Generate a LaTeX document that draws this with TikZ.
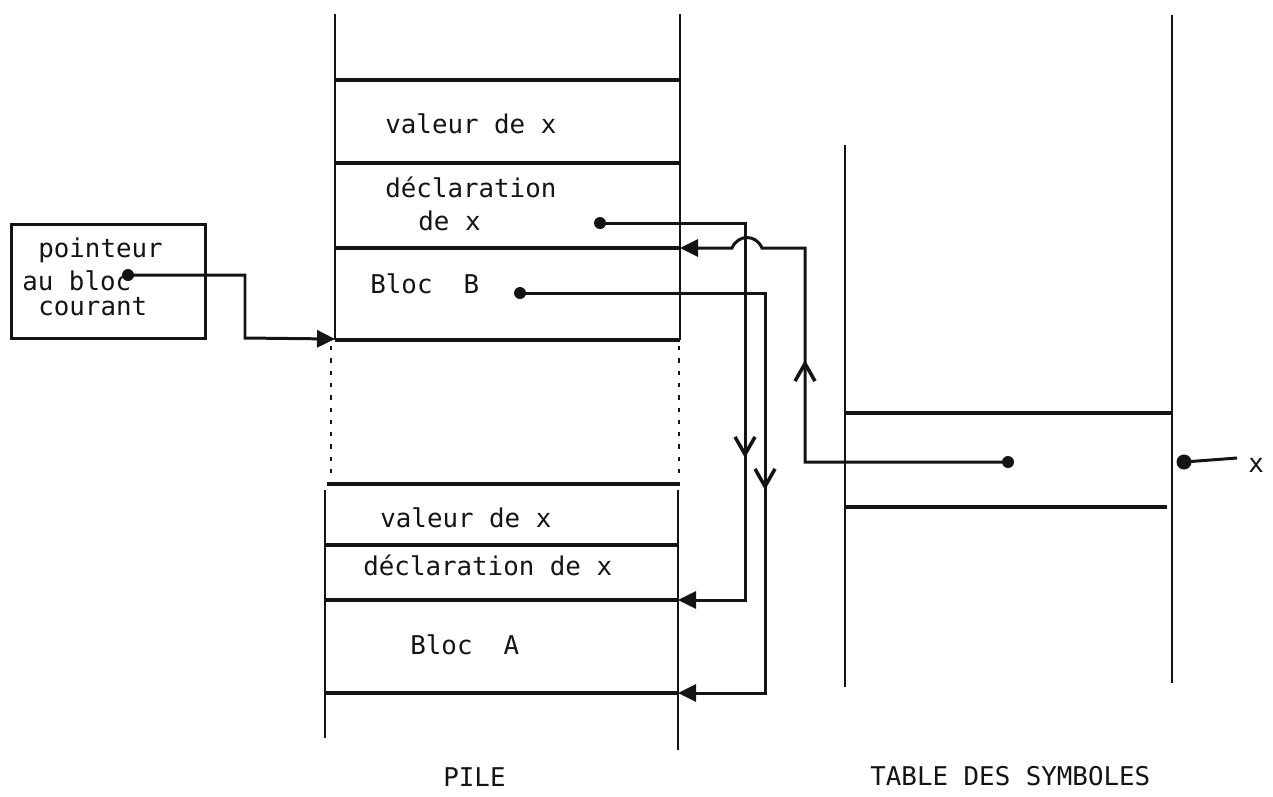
\documentclass[tikz,border=0pt]{standalone}
\usepackage{fontspec}
\setmonofont{DejaVu Sans Mono}
\usepackage{tikz}
\usetikzlibrary{arrows.meta,decorations.markings}
\definecolor{plink}{RGB}{20,20,20}
\tikzset{
  lbl/.style={font=\ttfamily\fontsize{14.7}{17}\selectfont, inner sep=0pt, anchor=base west, text=plink},
  wall/.style={draw=plink, line width=1.4pt},
  cell/.style={draw=plink, line width=1.9pt},
  gap/.style={draw=plink, line width=1.3pt, dash pattern=on 2.5pt off 4.5pt},
  link/.style={draw=plink, line width=1.7pt, -{Triangle[length=3.6mm,width=3.4mm]}},
  ptr/.style={draw=plink, line width=1.7pt},
  dot/.style={circle, fill=plink, inner sep=0pt, minimum size=2.4mm},
  midtip/.style={postaction={decorate}, decoration={markings,
    mark=at position #1 with {\arrow{Straight Barb[length=3.5mm,width=4mm,line width=2pt]}}}}
}
\begin{document}
\begin{tikzpicture}[x=0.02cm, y=-0.02cm]
  \useasboundingbox (0,0) rectangle (1273,796);

  % pile : bloc B
  \draw[wall] (335,14) -- (335,340);
  \draw[wall] (680,14) -- (680,340);
  \foreach \y in {80,163,248,340}
    \draw[cell] (335,\y) -- (680,\y);
  \draw[gap] (331,346) -- (331,476);
  \draw[gap] (679,346) -- (679,476);

  % pile : bloc A
  \draw[cell] (327,484) -- (680,484);
  \draw[wall] (325,490) -- (325,738);
  \draw[wall] (678,490) -- (678,750);
  \foreach \y in {545,600,693}
    \draw[cell] (325,\y) -- (678,\y);

  \node[lbl] (valB) at (385,133) {valeur de x};
  \node[lbl] (decB) at (385,197) {déclaration};
  \node[lbl] (decBx) at (418,230) {de x};
  \node[lbl] (blocB) at (370,293) {Bloc\ \ B};
  \node[lbl] (valA) at (380,527) {valeur de x};
  \node[lbl] (decA) at (363,575) {déclaration de x};
  \node[lbl] (blocA) at (410,654) {Bloc\ \ A};
  \node[lbl] (pile) at (443,786) {PILE};

  % table des symboles
  \draw[wall] (845,145) -- (845,687);
  \draw[wall] (1172,15) -- (1172,683);
  \draw[cell] (845,413) -- (1172,413);
  \draw[cell] (845,507) -- (1167,507);
  \node[lbl] (tds) at (870,785) {TABLE DES SYMBOLES};

  % pointeur au bloc courant
  \node[draw=plink, line width=1.8pt, minimum width=3.88cm, minimum height=2.28cm,
    inner sep=0pt, anchor=north west] (cur) at (10,223) {};
  \node[lbl] (cur1) at (38,257) {pointeur};
  \node[lbl] (cur2) at (22,290) {au bloc};
  \node[lbl] (cur3) at (38,315) {courant};

  % points de depart
  \node[dot] (dcur) at (128,275) {};
  \node[dot] (ddecB) at (600,223) {};
  \node[dot] (dblocB) at (520,293) {};
  \node[dot] (dsym) at (1008,462) {};
  \node[dot, minimum size=3mm] (px) at (1184,462) {};
  \node[lbl] (xname) at (1248,472) {x};

  % points d'arrivee
  \coordinate (aB) at (680,248);
  \coordinate (aTop) at (335,339);
  \coordinate (aDecA) at (678,600);
  \coordinate (aBlocA) at (678,693);
  \coordinate (xt) at (1237,458);

  % liens
  \draw[link] (dcur.center) -- (245,275) -- (245,338) -- (aTop);
  \draw[link, midtip=7.6cm] (ddecB.center) -- (745,223) -- (745,600) -- (aDecA);
  \draw[link, midtip=8.84cm] (dblocB.center) -- (765,293) -- (765,693) -- (aBlocA);
  \draw[link, midtip=6.1cm] (dsym.center) -- (805,462) -- (805,248) -- (762,248)
    .. controls (756,234) and (738,234) .. (732,248) -- (aB);
  \draw[ptr] (xt) -- (px.center);
\end{tikzpicture}
\end{document}
